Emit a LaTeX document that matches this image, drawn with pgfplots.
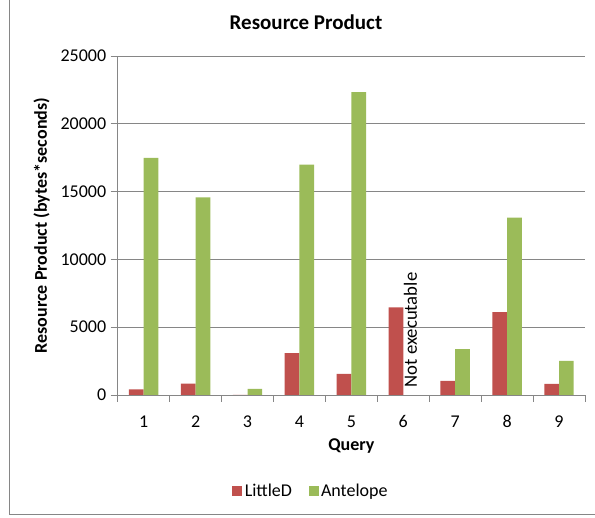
\documentclass[border=0pt]{standalone}
\usepackage{pgfplots}
\pgfplotsset{compat=1.18}
\usepackage{fontspec}
\setmainfont{Carlito}
\definecolor{cred}{HTML}{C0504D}
\definecolor{cgreen}{HTML}{9BBB59}
\definecolor{axgray}{HTML}{868686}
\begin{document}
\begin{tikzpicture}[x=1pt,y=1pt]
\useasboundingbox (0,0) rectangle (595,518);
\draw[axgray, line width=1pt] (9.3,518) -- (9.3,3) -- (595,3);
\node[font=\fontsize{21}{25}\selectfont\bfseries] at (306,496) {Resource Product};
\begin{axis}[
  at={(117.7pt,123pt)}, anchor=south west,
  scale only axis, width=467.3pt, height=339pt,
  xmin=0.5, xmax=9.5, ymin=0, ymax=25000,
  axis x line=bottom, axis y line=left,
  axis line style={axgray, line width=0.8pt, -},
  xtick={1,...,9},
  minor xtick={0.5,1.5,...,9.5},
  major x tick style={draw=none},
  minor x tick style={axgray, line width=0.8pt},
  minor tick length=7pt,
  ytick={0,5000,...,25000},
  y tick style={axgray, line width=0.8pt},
  major tick length=7pt,
  tick align=outside,
  ymajorgrids, grid style={axgray, line width=0.8pt},
  scaled ticks=false,
  /pgf/number format/1000 sep={},
  /pgf/number format/assume math mode=true,
  ticklabel style={font=\fontsize{18}{21}\selectfont},
  xticklabel style={yshift=-10pt},
  yticklabel style={xshift=-1pt},
  xlabel={\fontsize{18}{21}\selectfont\bfseries Query},
  xlabel style={yshift=-4pt},
  ylabel={\fontsize{18}{21}\selectfont\bfseries Resource Product (bytes*seconds)},
  ylabel style={yshift=4pt},
  bar width=0.283,
  legend style={at={(0.414,-0.283)}, anchor=center, draw=none, legend columns=2,
    font=\fontsize{18}{21}\selectfont, nodes={inner sep=2.5pt}},
  legend image code/.code={\fill[#1] (0pt,-5pt) rectangle (10pt,5pt);},
]
\addplot[ybar, fill=cred, draw=none, bar shift=-0.1415] coordinates {
 (1,419) (2,837) (3,15) (4,3079) (5,1552) (6,6453) (7,1034) (8,6108) (9,813)};
\addlegendentry{LittleD\rule{14pt}{0pt}}
\addplot[ybar, fill=cgreen, draw=none, bar shift=0.1415] coordinates {
 (1,17488) (2,14581) (3,443) (4,16995) (5,22340) (7,3374) (8,13079) (9,2512)};
\addlegendentry{Antelope}
\node[rotate=90, anchor=west, font=\fontsize{18.7}{22}\selectfont, inner sep=0pt] at (axis cs:6.14,560) {Not executable};
\end{axis}
\end{tikzpicture}
\end{document}
